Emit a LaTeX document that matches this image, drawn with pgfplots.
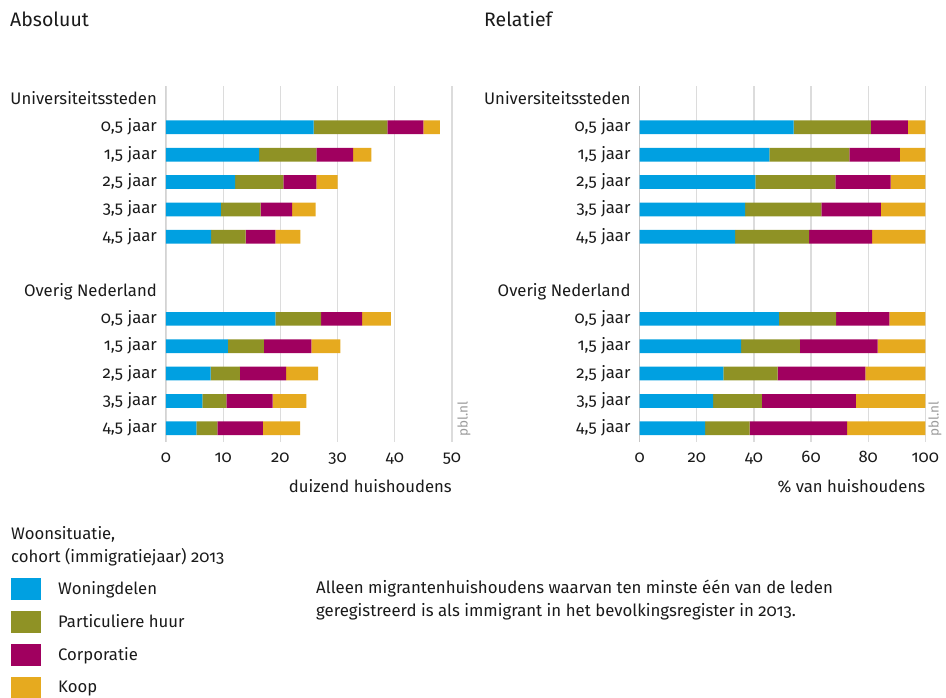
\documentclass[border=0pt]{standalone}
\usepackage{fontspec}
\setmainfont{Fira Sans}[Numbers=OldStyle]
\usepackage{pgfplots}
\usepackage{pgfplotstable}
\pgfplotsset{compat=1.18}

\definecolor{cblue}{HTML}{00A0E1}
\definecolor{colive}{HTML}{8F9225}
\definecolor{cpurple}{HTML}{A0005F}
\definecolor{cyellow}{HTML}{E6AA1F}
\definecolor{cgrid}{HTML}{DCDCDC}
\definecolor{caxis}{HTML}{9B9B9B}
\definecolor{ctext}{HTML}{1A1A1A}

% y: row position (12 = top)
\pgfplotstableread{
y  blue  olive purple yellow
11 25.8  12.9  6.3    2.9
10 16.3  10.0  6.4    3.2
9  12.1  8.4   5.8    3.7
8  9.6   6.95  5.5    4.1
7  7.9   6.0   5.2    4.4
4  19.1  8.0   7.2    5.0
3  10.8  6.3   8.3    5.1
2  7.8   5.1   8.1    5.6
1  6.35  4.2   8.1    5.9
0  5.3   3.7   7.95   6.5
}\absdata

\pgfplotstableread{
y  blue  olive purple yellow
11 53.9  27.0  13.0   6.1
10 45.4  28.0  17.7   8.9
9  40.5  28.0  19.4   12.1
8  36.9  26.7  20.8   15.6
7  33.4  25.9  22.1   18.6
4  48.7  20.1  18.6   12.6
3  35.5  20.6  27.2   16.7
2  29.3  19.0  30.7   21.0
1  25.7  17.1  32.9   24.3
0  22.9  15.6  34.1   27.4
}\reldata

\newcommand{\lblfont}{\fontsize{16.7}{19}\selectfont}
\newcommand{\notefont}{\fontsize{16.8}{19}\selectfont}

\pgfplotsset{
  panel/.style={
    scale only axis,
    height=355.7pt,
    xbar stacked,
    bar width=13.7pt,
    ymin=-0.5, ymax=12.5,
    xmin=0,
    ytick={0,...,12},
    yticklabels={{4,5 jaar},{3,5 jaar},{2,5 jaar},{1,5 jaar},{0,5 jaar},Overig Nederland,{},{4,5 jaar},{3,5 jaar},{2,5 jaar},{1,5 jaar},{0,5 jaar},Universiteitssteden},
    axis line style={draw=none},
    major tick length=0pt,
    xmajorgrids,
    major grid style={cgrid, line width=1.2pt},
    /pgf/number format/assume math mode=true,
    tick label style={font=\lblfont, text=ctext},
    yticklabel style={anchor=base east, inner sep=0pt, xshift=-9pt, yshift=-4.5pt},
    xticklabel style={anchor=base, inner sep=0pt, yshift=-21pt},
    xlabel style={at={(axis description cs:1,0)}, anchor=base east, inner sep=0pt, yshift=-51pt, font=\lblfont, text=ctext},
    every axis plot/.append style={draw=none},
    legend image code/.code={\fill[##1] (0pt,-6pt) rectangle (30pt,16pt);},
  }
}

\begin{document}
\begin{tikzpicture}
\useasboundingbox (0,0) rectangle (946pt,698pt);

% titles
\node[anchor=base west, inner sep=0pt, font=\fontsize{19.5}{22}\selectfont, text=ctext] at (10pt,671pt) {Absoluut};
\node[anchor=base west, inner sep=0pt, font=\fontsize{19.5}{22}\selectfont, text=ctext] at (484pt,671pt) {Relatief};

% left panel
\begin{axis}[panel,
  at={(166pt,256pt)}, anchor=south west,
  width=286pt,
  xmax=50, xtick={0,10,...,50},
  xlabel={duizend huishoudens},
  legend style={at={(-0.5420,-0.3823)}, anchor=north west, draw=none, fill=none,
    inner sep=0pt, row sep=10.8pt, column sep=17pt,
    nodes={inner sep=0pt, font=\lblfont, text=ctext, yshift=5.5pt}},
  legend cell align=left,
]
\addplot[fill=cblue] table[x=blue, y=y] {\absdata};
\addplot[fill=colive] table[x=olive, y=y] {\absdata};
\addplot[fill=cpurple] table[x=purple, y=y] {\absdata};
\addplot[fill=cyellow] table[x=yellow, y=y] {\absdata};
\legend{Woningdelen, Particuliere huur, Corporatie, Koop}
\draw[caxis, line width=1pt] (rel axis cs:0,0) -- (rel axis cs:0,1);
\end{axis}

% right panel
\begin{axis}[panel,
  at={(639.7pt,256pt)}, anchor=south west,
  width=285.6pt,
  xmax=100, xtick={0,20,...,100},
  xlabel={\% van huishoudens},
]
\addplot[fill=cblue] table[x=blue, y=y] {\reldata};
\addplot[fill=colive] table[x=olive, y=y] {\reldata};
\addplot[fill=cpurple] table[x=purple, y=y] {\reldata};
\addplot[fill=cyellow] table[x=yellow, y=y] {\reldata};
\draw[caxis, line width=1pt] (rel axis cs:0,0) -- (rel axis cs:0,1);
\end{axis}

% source marks
\node[rotate=90, anchor=west, inner sep=0pt, font=\fontsize{13.5}{16}\selectfont, text=caxis] at (464pt,261pt) {pbl.nl};
\node[rotate=90, anchor=west, inner sep=0pt, font=\fontsize{13.5}{16}\selectfont, text=caxis] at (935pt,261pt) {pbl.nl};

% legend title
\node[anchor=base west, inner sep=0pt, font=\lblfont, text=ctext] at (11pt,158pt) {Woonsituatie,};
\node[anchor=base west, inner sep=0pt, font=\lblfont, text=ctext] at (11pt,135pt) {cohort (immigratiejaar) 2013};

% note
\node[anchor=base west, inner sep=0pt, font=\notefont, text=ctext] at (316pt,104.5pt) {Alleen migrantenhuishoudens waarvan ten minste één van de leden};
\node[anchor=base west, inner sep=0pt, font=\notefont, text=ctext] at (316pt,81.5pt) {geregistreerd is als immigrant in het bevolkingsregister in 2013.};
\end{tikzpicture}
\end{document}
